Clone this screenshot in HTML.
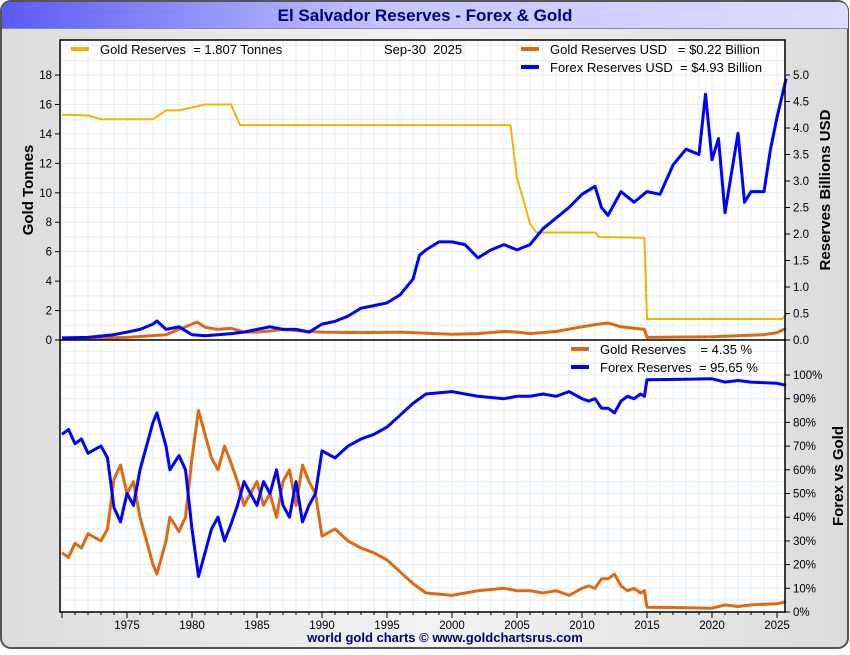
<!DOCTYPE html>
<html><head><meta charset="utf-8"><style>
body{margin:0;width:850px;height:650px;background:#fff;font-family:"Liberation Sans",sans-serif;overflow:hidden}
svg text{font-family:"Liberation Sans",sans-serif;white-space:pre}
</style></head><body>
<svg id="c" width="850" height="650" xmlns="http://www.w3.org/2000/svg" xml:space="preserve">
<defs>
<linearGradient id="tb" x1="0" x2="1" y1="0" y2="0"><stop offset="0" stop-color="#5b5bf5"/><stop offset="0.45" stop-color="#c4c4ff"/><stop offset="1" stop-color="#dcdcff"/></linearGradient>
<linearGradient id="bg" x1="0" x2="1" y1="0" y2="0"><stop offset="0" stop-color="#dcdcdc"/><stop offset="0.5" stop-color="#f2f2f2"/><stop offset="1" stop-color="#dcdcdc"/></linearGradient>
</defs>
<rect x="1" y="1" width="847" height="647" rx="10" fill="url(#bg)" stroke="#555" stroke-width="2"/>
<path d="M2 28 V12 Q2 2 12 2 H838 Q848 2 848 12 V28 Z" fill="url(#tb)"/>
<line x1="2" y1="28.5" x2="848" y2="28.5" stroke="#8888aa"/>
<text x="425" y="21" text-anchor="middle" font-size="17" font-weight="bold" fill="#000080">El Salvador Reserves - Forex &amp; Gold</text>
<rect x="60" y="40" width="725" height="572" fill="#fff"/>
<g id="grid"></g>
<g id="series"></g>
<rect x="60" y="40" width="725" height="572" fill="none" stroke="#000" stroke-width="1.5"/>
<line x1="60" y1="340" x2="785" y2="340" stroke="#000" stroke-width="1.5"/>
<g id="axes"></g>
<g font-size="13" fill="#000">
<line x1="71" y1="49" x2="89" y2="49" stroke="#f5b000" stroke-width="4"/>
<text x="100" y="54">Gold Reserves  = 1.807 Tonnes</text>
<text x="384" y="54">Sep-30  2025</text>
<line x1="521" y1="49" x2="539" y2="49" stroke="#dd6a10" stroke-width="4"/>
<text x="550" y="54">Gold Reserves USD   = $0.22 Billion</text>
<line x1="521" y1="67" x2="539" y2="67" stroke="#0000ff" stroke-width="4"/>
<text x="550" y="72">Forex Reserves USD  = $4.93 Billion</text>
<line x1="571" y1="349" x2="589" y2="349" stroke="#dd6a10" stroke-width="4"/>
<text x="600" y="354">Gold Reserves    = 4.35 %</text>
<line x1="571" y1="367" x2="589" y2="367" stroke="#0000ff" stroke-width="4"/>
<text x="600" y="372">Forex Reserves  = 95.65 %</text>
</g>
<text transform="translate(33,190) rotate(-90)" text-anchor="middle" font-size="15" font-weight="bold">Gold Tonnes</text>
<text transform="translate(830,190) rotate(-90)" text-anchor="middle" font-size="15" font-weight="bold">Reserves Billions USD</text>
<text transform="translate(843,476) rotate(-90)" text-anchor="middle" font-size="15" font-weight="bold">Forex vs Gold</text>
<text x="445" y="642" text-anchor="middle" font-size="13" font-weight="bold" fill="#000080">world gold charts © www.goldchartsrus.com</text>
</svg>
<script>
const goldYears=[1970,1972,1973,1977,1978,1979,1980,1981,1983,1983.7,2004.5,2005,2005.5,2006,2006.5,2011,2011.3,2014.8,2015,2025.4,2025.75];
const goldTonnes=[15.3,15.25,15.0,15.0,15.6,15.6,15.8,16.0,16.0,14.6,14.6,11,9.5,7.9,7.3,7.3,7.0,6.95,1.43,1.43,1.81];
const fxYears=[1970,1972,1974,1975,1976,1977,1977.3,1978,1979,1980,1981,1982,1983,1984,1985,1986,1987,1988,1989,1990,1991,1992,1993,1994,1995,1996,1997,1997.5,1998,1999,2000,2001,2002,2003,2004,2005,2006,2007,2008,2009,2010,2011,2011.5,2012,2013,2014,2015,2016,2017,2018,2019,2019.5,2020,2020.5,2021,2022,2022.5,2023,2024,2024.5,2025,2025.7];
const fxUsd=[0.04,0.05,0.1,0.15,0.2,0.3,0.36,0.2,0.25,0.1,0.08,0.1,0.12,0.15,0.2,0.25,0.2,0.2,0.15,0.3,0.35,0.45,0.6,0.65,0.7,0.85,1.15,1.6,1.7,1.85,1.85,1.8,1.55,1.7,1.8,1.7,1.8,2.1,2.3,2.5,2.75,2.9,2.5,2.35,2.8,2.6,2.8,2.75,3.3,3.6,3.5,4.64,3.4,3.8,2.4,3.9,2.6,2.8,2.8,3.6,4.2,4.93];
const gUsdYears=[1970,1975,1978,1979,1980,1980.4,1981,1982,1983,1984,1985,1986,1987,1988,1989,1990,1993,1996,2000,2002,2004,2005,2006,2008,2010,2011,2012,2013,2014,2014.8,2015,2020,2024,2025,2025.7];
const gUsd=[0.02,0.05,0.1,0.2,0.3,0.34,0.24,0.2,0.22,0.15,0.15,0.17,0.2,0.18,0.16,0.15,0.14,0.15,0.11,0.12,0.16,0.15,0.12,0.16,0.25,0.29,0.32,0.25,0.22,0.2,0.05,0.06,0.1,0.14,0.22];
const pctYears=[1970,1970.5,1971,1971.5,1972,1973,1973.5,1974,1974.5,1975,1975.5,1976,1976.5,1977,1977.3,1978,1978.3,1979,1979.5,1980,1980.5,1981,1981.5,1982,1982.5,1983,1983.5,1984,1985,1985.5,1986,1986.5,1987,1987.5,1988,1988.5,1989,1989.5,1990,1991,1992,1993,1994,1995,1996,1997,1998,2000,2002,2004,2005,2006,2007,2008,2009,2010,2010.5,2011,2011.5,2012,2012.5,2013,2013.5,2014,2014.5,2014.8,2015,2018,2020,2021,2022,2023,2025,2025.7];
const goldPct=[25,23,29,27,33,30,35,56,62,50,55,40,30,20,16,30,40,34,40,65,85,75,65,60,70,63,55,45,55,45,50,40,55,60,45,62,55,50,32,35,30,27,25,22,17,12,8,7,9,10,9,9,8,9,7,10,11,10,14,14,16,11,9,10,8,9,2,1.8,1.6,3,2.3,3,3.5,4.35];
const leftTicks=[0,2,4,6,8,10,12,14,16,18];
const rightTicks=["0.0","0.5","1.0","1.5","2.0","2.5","3.0","3.5","4.0","4.5","5.0"];
const pctTicks=[0,10,20,30,40,50,60,70,80,90,100];
const xTicks=[1975,1980,1985,1990,1995,2000,2005,2010,2015,2020,2025];

const NS="http://www.w3.org/2000/svg";
const X=y=>127+(y-1975)*13;
const YT=v=>340-v*14.72;
const YU=v=>340-v*53;
const YP=v=>612-v*2.37;
function mk(p,t,a){const e=document.createElementNS(NS,t);for(const k in a)e.setAttribute(k,a[k]);p.appendChild(e);return e;}
const grid=document.getElementById('grid'),ser=document.getElementById('series'),ax=document.getElementById('axes');
for(let yr=1970;yr<=2025;yr++){const l=mk(grid,'line',{x1:X(yr),x2:X(yr),y1:40,y2:612,stroke:'#e2eef6','stroke-width':1});

}
for(let v=1;v<=20;v++){if(YT(v)<41)break;const l=mk(grid,'line',{x1:60,x2:785,y1:YT(v),y2:YT(v),stroke:'#e2eef6'});

}
for(let v=5;v<=110;v+=5){const l=mk(grid,'line',{x1:60,x2:785,y1:YP(v),y2:YP(v),stroke:'#e2eef6'});

}
function line(xs,vs,f,col,name){const d=xs.map((x,i)=>(i?'L':'M')+X(x).toFixed(1)+' '+f(vs[i]).toFixed(1)).join('');
const p=mk(ser,'path',{d:d,fill:'none',stroke:col,'stroke-width':name.indexOf('tonnes')>=0?2:3,'stroke-linejoin':'round'});

}
line(goldYears,goldTonnes,YT,'#f5b000','gold-tonnes-line');
line(gUsdYears,gUsd,YU,'#dd6a10','gold-usd-line');
line(fxYears,fxUsd,YU,'#0000ff','forex-usd-line');
line(pctYears,goldPct,YP,'#dd6a10','gold-pct-line');
line(pctYears,goldPct.map(v=>100-v),YP,'#0000ff','forex-pct-line');
leftTicks.forEach(v=>{mk(ax,'line',{x1:55,x2:60,y1:YT(v),y2:YT(v),stroke:'#000'});
const t=mk(ax,'text',{x:52,y:YT(v)+4,'text-anchor':'end','font-size':11.5});t.textContent=v;

});
rightTicks.forEach(s=>{const y=YU(parseFloat(s));mk(ax,'line',{x1:785,x2:790,y1:y,y2:y,stroke:'#000'});
const t=mk(ax,'text',{x:793,y:y+4,'font-size':11.5});t.textContent=s;

});
pctTicks.forEach(v=>{mk(ax,'line',{x1:785,x2:790,y1:YP(v),y2:YP(v),stroke:'#000'});
const t=mk(ax,'text',{x:793,y:YP(v)+4,'font-size':11.5});t.textContent=v+'%';

});
for(let yr=1970;yr<=2025;yr++){mk(ax,'line',{x1:X(yr),x2:X(yr),y1:612,y2:yr%5==0?618:615,stroke:'#000'});}
xTicks.forEach(yr=>{const t=mk(ax,'text',{x:X(yr),y:629,'text-anchor':'middle','font-size':11.5});t.textContent=yr;

});
</script>
</body></html>
